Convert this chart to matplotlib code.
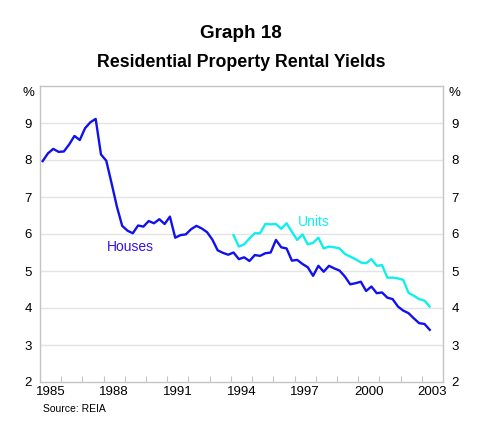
import matplotlib
matplotlib.use("Agg")
import matplotlib.pyplot as plt
import numpy as np

plt.rcParams['font.family'] = ['Liberation Sans', 'DejaVu Sans']

# Quarterly data
houses_start = 1985  # first quarter of 1985
houses = [7.97, 8.18, 8.30, 8.22,
          8.23, 8.42, 8.65, 8.54,
          8.86, 9.02, 9.11, 8.15,
          7.98, 7.37, 6.74, 6.22,
          6.09, 6.02, 6.23, 6.20,
          6.35, 6.29, 6.40, 6.27,
          6.47, 5.90, 5.97, 5.99,
          6.13, 6.22, 6.15, 6.05,
          5.85, 5.56, 5.49, 5.44,
          5.50, 5.32, 5.37, 5.27,
          5.43, 5.41, 5.48, 5.50,
          5.84, 5.64, 5.61, 5.28,
          5.30, 5.19, 5.10, 4.87,
          5.14, 4.98, 5.14, 5.07,
          5.01, 4.85, 4.64, 4.67,
          4.71, 4.46, 4.58, 4.40,
          4.42, 4.28, 4.24, 4.04,
          3.93, 3.86, 3.72, 3.59,
          3.57, 3.41]
units_start = 1994
units = [5.97, 5.66, 5.72, 5.88,
         6.02, 6.02, 6.27, 6.26,
         6.27, 6.14, 6.29, 6.06,
         5.84, 5.99, 5.72, 5.76,
         5.90, 5.61, 5.66, 5.64,
         5.61, 5.46, 5.39, 5.32,
         5.23, 5.21, 5.32, 5.14,
         5.16, 4.82, 4.82, 4.80,
         4.76, 4.41, 4.33, 4.24,
         4.20, 4.04]
year_labels = ['1985', '1988', '1991', '1994', '1997', '2000', '2003']
y_ticks = [2, 3, 4, 5, 6, 7, 8, 9]

hx = houses_start + 0.125 + 0.25 * np.arange(len(houses))
ux = units_start + 0.125 + 0.25 * np.arange(len(units))

fig = plt.figure(figsize=(4.94, 4.38), dpi=100)
ax = fig.add_axes([40/494, 1-382/438, (443-40)/494, (382-86)/438])

grid_c = '#e4e4e4'
frame_c = '#c4c4c4'
for v in y_ticks[1:]:
    ax.axhline(v, color=grid_c, lw=1.0, zorder=0)

ax.plot(hx, houses, color='#1111ee', lw=1.7, zorder=3)
ax.plot(ux, units, color='#11eeee', lw=1.7, zorder=3)

ax.set_xlim(1985, 2004)
ax.set_ylim(2, 10)
for s in ax.spines.values():
    s.set_color(frame_c)
    s.set_linewidth(1.0)

# x ticks: marks at each year, labels centred within years
ax.set_xticks(np.arange(1986, 2004), minor=False)
ax.set_xticklabels([])
ax.tick_params(axis='x', which='major', direction='in', length=4, color=frame_c, width=0.8)
ax.set_xticks([int(l) + 0.5 for l in year_labels], minor=True)
ax.set_xticklabels(year_labels, minor=True, fontsize=9.5)
ax.tick_params(axis='x', which='minor', length=0, pad=3)

ax.set_yticks(y_ticks)
ax.set_yticklabels([str(v) for v in y_ticks], fontsize=9.5)
ax.tick_params(axis='y', length=0, pad=6, labelleft=True, labelright=True)

# % labels
ax.text(-0.014, 1.0 - 7/296, '%', transform=ax.transAxes, ha='right', va='center', fontsize=9.5)
ax.text(1.014, 1.0 - 7/296, '%', transform=ax.transAxes, ha='left', va='center', fontsize=9.5)

ax.text(1988.16, 5.65, 'Houses', color='#3311ee', fontsize=10, ha='left', va='center')
ax.text(1997.16, 6.33, 'Units', color='#11eeee', fontsize=10, ha='left', va='center')

fig.text(241/494, 1-34/438, 'Graph 18', ha='center', va='center', fontsize=13.6, fontweight='bold')
fig.text(241/494, 1-62.5/438, 'Residential Property Rental Yields', ha='center', va='center', fontsize=12.8, fontweight='bold')
fig.text(43/494, 1-409/438, 'Source: REIA', ha='left', va='center', fontsize=7.5)

fig.savefig('out.png', dpi=100)
